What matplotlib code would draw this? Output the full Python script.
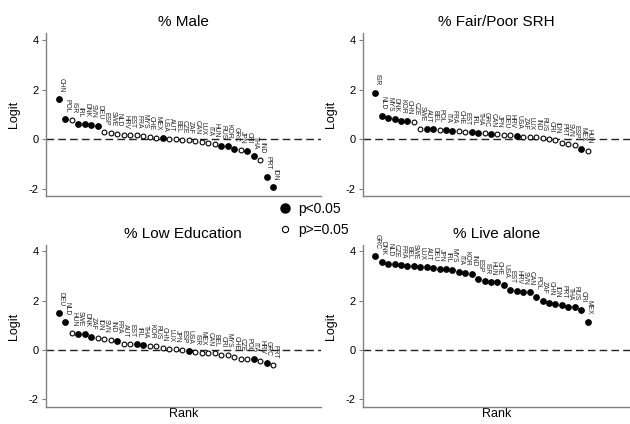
import matplotlib
matplotlib.use('Agg')
import matplotlib.pyplot as plt
from matplotlib.lines import Line2D

plt.rcParams['font.family'] = ['Liberation Sans', 'DejaVu Sans']

# --- data (logit, rank-ordered) ---
male_cty = ['CHN', 'POL', 'ISR', 'IRL', 'DNK', 'SVN', 'DEU', 'ESP', 'SWE', 'NLD', 'HRV', 'EST',
            'FRA', 'MYS', 'CHE', 'MEX', 'USA', 'AUT', 'BEL', 'CZE', 'ZAF', 'CAN', 'LUX', 'ITA',
            'HUN', 'RUS', 'KOR', 'GRC', 'JPN', 'CRI', 'THA', 'IND', 'PRT', 'IDN']
male_val = [1.61, 0.82, 0.78, 0.62, 0.62, 0.60, 0.54, 0.30, 0.26, 0.23, 0.16, 0.16,
            0.16, 0.15, 0.08, 0.07, 0.04, 0.02, 0.00, -0.03, -0.04, -0.05, -0.10, -0.16,
            -0.19, -0.26, -0.26, -0.39, -0.43, -0.46, -0.67, -0.83, -1.50, -1.93]
male_sig = [1, 1, 0, 1, 1, 1, 1, 0, 0, 0, 0, 0,
            0, 0, 0, 0, 1, 0, 0, 0, 0, 0, 0, 0,
            0, 1, 1, 1, 0, 1, 1, 0, 1, 1]

srh_cty = ['ISR', 'NLD', 'MYS', 'DNK', 'KOR', 'CHN', 'CZE', 'SWE', 'AUT', 'BEL', 'POL', 'ITA',
           'FRA', 'CHE', 'EST', 'IRL', 'THA', 'GRC', 'CAN', 'JPN', 'DEU', 'HRV', 'USA', 'ZAF',
           'LUX', 'IND', 'RUS', 'CRI', 'IDN', 'PRT', 'SVN', 'ESP', 'MEX', 'HUN']
srh_val = [1.89, 0.95, 0.86, 0.84, 0.74, 0.74, 0.70, 0.43, 0.40, 0.40, 0.38, 0.38,
           0.35, 0.32, 0.30, 0.28, 0.27, 0.24, 0.22, 0.20, 0.19, 0.18, 0.15, 0.09,
           0.09, 0.08, 0.05, 0.01, -0.03, -0.16, -0.19, -0.24, -0.38, -0.45]
srh_sig = [1, 1, 1, 1, 1, 1, 0, 0, 1, 1, 0, 1,
           1, 0, 0, 1, 1, 0, 1, 0, 0, 0, 1, 0,
           0, 0, 0, 0, 0, 0, 0, 0, 1, 0]

edu_cty = ['DEU', 'NLD', 'HUN', 'SWE', 'DNK', 'ZAF', 'IDN', 'SVN', 'IND', 'FRA', 'AUT', 'EST',
           'IRL', 'THA', 'KOR', 'RUS', 'CHN', 'LUX', 'JPN', 'ESP', 'USA', 'ISR', 'MEX', 'CAN',
           'BEL', 'CRI', 'MYS', 'CHE', 'CZE', 'POL', 'ITA', 'HRV', 'GRC', 'PRT']
edu_val = [1.49, 1.14, 0.69, 0.66, 0.65, 0.54, 0.50, 0.43, 0.42, 0.38, 0.24, 0.23,
           0.23, 0.20, 0.18, 0.15, 0.08, 0.05, 0.03, 0.00, -0.03, -0.09, -0.11, -0.11,
           -0.14, -0.19, -0.20, -0.28, -0.35, -0.36, -0.38, -0.43, -0.54, -0.62]
edu_sig = [1, 1, 0, 1, 1, 1, 0, 0, 0, 1, 0, 0,
           1, 1, 0, 0, 0, 0, 0, 0, 1, 0, 0, 0,
           0, 0, 0, 0, 0, 0, 1, 0, 1, 0]

alone_cty = ['GRC', 'DNK', 'NLD', 'CZE', 'FRA', 'BEL', 'SWE', 'LUX', 'AUT', 'DEU', 'JPN', 'IRL',
             'MYS', 'ITA', 'KOR', 'IND', 'ESP', 'ISR', 'HUN', 'CHE', 'USA', 'EST', 'HRV', 'SVN',
             'CAN', 'POL', 'ZAF', 'CHN', 'IDN', 'PRT', 'THA', 'RUS', 'CRI', 'MEX']
alone_val = [3.82, 3.55, 3.50, 3.47, 3.43, 3.41, 3.39, 3.38, 3.36, 3.31, 3.30, 3.28,
             3.26, 3.18, 3.14, 3.09, 2.86, 2.78, 2.76, 2.74, 2.64, 2.43, 2.39, 2.36,
             2.35, 2.16, 2.00, 1.92, 1.85, 1.82, 1.74, 1.73, 1.64, 1.14]
alone_sig = [1] * 34

panels = [
    ('% Male', male_cty, male_val, male_sig),
    ('% Fair/Poor SRH', srh_cty, srh_val, srh_sig),
    ('% Low Education', edu_cty, edu_val, edu_sig),
    ('% Live alone', alone_cty, alone_val, alone_sig),
]

AXCOL = '#808080'


def draw_panel(ax, title, cty, val, sig, xlim, ylim, bottom_row):
    rank = list(range(len(val)))
    fx = [r for r, s in zip(rank, sig) if s]
    fy = [v for v, s in zip(val, sig) if s]
    ox = [r for r, s in zip(rank, sig) if not s]
    oy = [v for v, s in zip(val, sig) if not s]
    ax.axhline(0, color='#222222', lw=1.0, dashes=(5.5, 3), zorder=1)
    ax.scatter(fx, fy, s=15, color='black', zorder=3)
    ax.scatter(ox, oy, s=12, facecolor='white', edgecolor='black', lw=0.8, zorder=3)
    # country labels, rotated, sitting just above each marker
    for r, v, c in zip(rank, val, cty):
        ax.annotate(c, (r, v), xytext=(1.3, 5.0), textcoords='offset points',
                    rotation=270, ha='center', va='bottom', fontsize=4.9,
                    color='#262626', annotation_clip=False)
    ax.set_xlim(*xlim)
    ax.set_ylim(*ylim)
    ax.set_yticks([-2, 0, 2, 4])
    ax.set_yticklabels(['-2', '0', '2', '4'])
    ax.set_xticks([])
    ax.tick_params(axis='y', labelsize=8, length=3, width=0.8, color=AXCOL, pad=2)
    for side in ('top', 'right'):
        ax.spines[side].set_visible(False)
    for side in ('left', 'bottom'):
        ax.spines[side].set_color(AXCOL)
        ax.spines[side].set_linewidth(1.0)
    ax.set_title(title, fontsize=11, pad=5)
    ax.set_ylabel('Logit', fontsize=9)
    ax.yaxis.set_label_coords(-0.095, 0.5)
    if bottom_row:
        ax.set_xlabel('Rank', fontsize=9, labelpad=1)


fig = plt.figure(figsize=(6.3, 4.24), dpi=100)
boxes = [
    [0.0725, 0.5377, 0.437, 0.384],
    [0.5757, 0.5377, 0.4243, 0.384],
    [0.0725, 0.0408, 0.437, 0.381],
    [0.5757, 0.0408, 0.4243, 0.381],
]
xlims = [(-2.05, 40.4), (-1.95, 39.6), (-2.05, 40.4), (-1.95, 39.6)]
ylims = [(-2.28, 4.28), (-2.28, 4.28), (-2.3, 4.25), (-2.3, 4.25)]

for i, (title, cty, val, sig) in enumerate(panels):
    ax = fig.add_axes(boxes[i])
    draw_panel(ax, title, cty, val, sig, xlims[i], ylims[i], i >= 2)

handles = [
    Line2D([], [], ls='none', marker='o', ms=6.5, mfc='black', mec='black'),
    Line2D([], [], ls='none', marker='o', ms=4.5, mfc='white', mec='black', mew=0.8),
]
fig.legend(handles, ['p<0.05', 'p>=0.05'], loc='center', bbox_to_anchor=(0.498, 0.483),
           frameon=False, fontsize=10, handlelength=1.0, handletextpad=0.45,
           labelspacing=0.5, borderpad=0)

fig.savefig('out.png', dpi=100, facecolor='white')
